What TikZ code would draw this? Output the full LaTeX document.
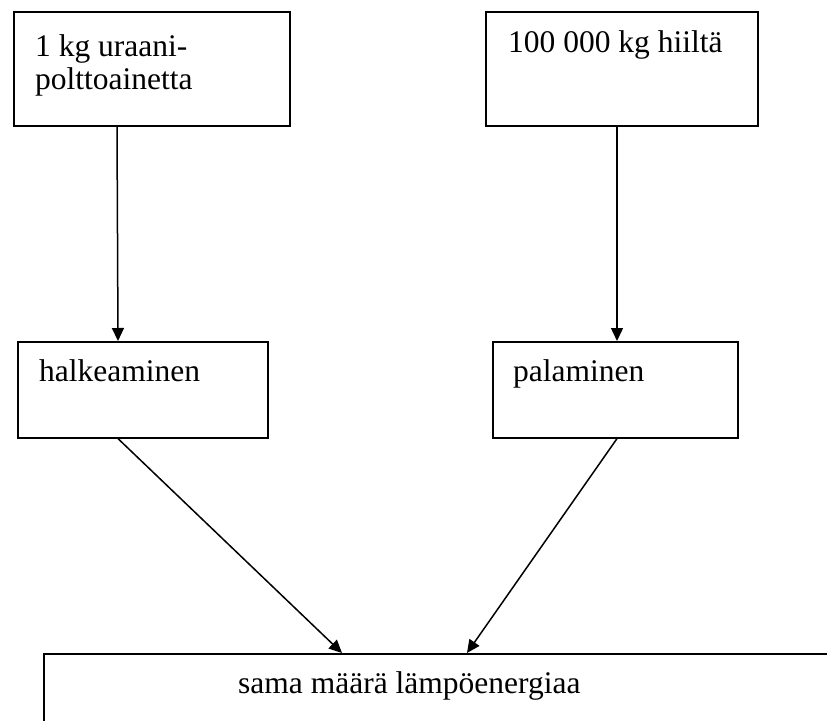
\documentclass[tikz,border=0pt]{standalone}
\usepackage{fontspec}
\setmainfont{Liberation Serif}
\usetikzlibrary{arrows.meta}

\begin{document}
\begin{tikzpicture}[
    x=1pt, y=-1pt,
    box/.style={draw, rectangle, line width=1.6pt, anchor=north west, inner sep=0pt},
    txt/.style={anchor=base west, inner sep=0pt, align=left,
                font=\fontsize{31.5}{33}\selectfont},
    arr/.style={line width=1.5pt, -{Triangle[length=13pt, width=12pt]}}
]
\clip (0,0) rectangle (827,720);

% boxes
\node[box, minimum width=276pt, minimum height=114pt] (fuel) at (13,11) {};
\node[box, minimum width=272pt, minimum height=114pt] (coal) at (485,11) {};
\node[box, minimum width=250pt, minimum height=96pt] (split) at (17,341) {};
\node[box, minimum width=245pt, minimum height=96pt] (burn) at (492,341) {};
\node[box, minimum width=900pt, minimum height=200pt] (heat) at (43,653) {};

% texts (base of a two-line node is its last line)
\node[txt] (fueltxt) at (35,89) {1 kg uraani-\\polttoainetta};
\node[txt] (coaltxt) at (508,52) {100 000 kg hiiltä};
\node[txt] (splittxt) at (39,381) {halkeaminen};
\node[txt] (burntxt) at (513,381) {palaminen};
\node[txt] (heattxt) at (238,693) {sama määrä lämpöenergiaa};

% arrows
\draw[arr] ([xshift=104pt]fuel.south west) -- ([xshift=101pt]split.north west);
\draw[arr] ([xshift=132pt]coal.south west) -- ([xshift=125pt]burn.north west);
\draw[arr] ([xshift=101pt]split.south west) -- ([xshift=299pt]heat.north west);
\draw[arr] ([xshift=125pt]burn.south west) -- ([xshift=424pt]heat.north west);

\end{tikzpicture}
\end{document}
